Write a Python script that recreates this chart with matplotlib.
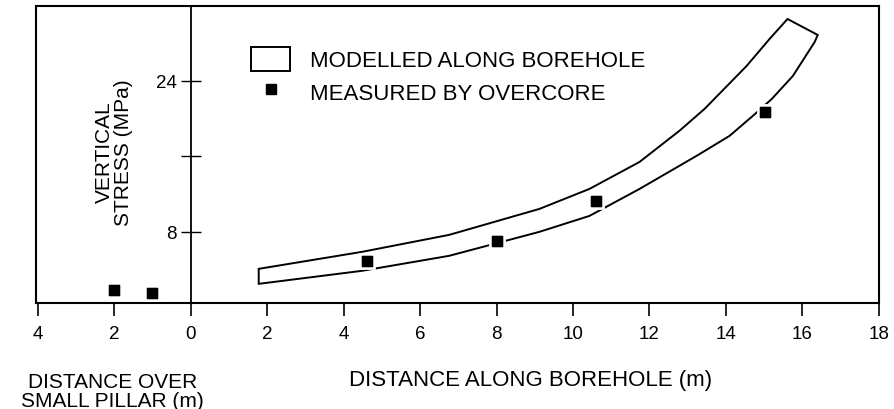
import matplotlib.pyplot as plt
from matplotlib.patches import Patch
from matplotlib.lines import Line2D

plt.rcParams['font.family'] = ['Liberation Sans', 'DejaVu Sans']

# modelled band along the borehole (upper edge left->right, lower edge right->left)
upper_x = [1.78, 4.48, 6.76, 9.12, 10.43, 11.74, 12.78, 13.44, 14.54, 15.14, 15.61]
upper_y = [4.08, 5.88, 7.68, 10.43, 12.55, 15.41, 18.70, 21.03, 25.58, 28.44, 30.56]
lower_x = [16.40, 16.32, 15.75, 15.20, 14.70, 14.09, 13.23, 11.74, 10.43, 9.12, 6.76, 4.48, 1.78]
lower_y = [28.87, 28.12, 24.52, 22.09, 20.28, 18.16, 16.05, 12.55, 9.69, 8.00, 5.46, 3.87, 2.49]

# overcore measurements (negative x = distance over small pillar)
meas_x = [-2.0, -1.0, 4.6, 8.0, 10.61, 15.03]
meas_y = [1.85, 1.54, 4.93, 7.08, 11.28, 20.7]

xticks = [-4, -2, 0, 2, 4, 6, 8, 10, 12, 14, 16, 18]
xtick_labels = [str(abs(t)) for t in xticks]
yticks = [8, 16, 24]
ytick_labels = ['8', '', '24']

fig = plt.figure(figsize=(8.95, 4.10), dpi=100)
ax = fig.add_axes([0.040, 0.259, 0.942, 0.724])

band_x = upper_x + lower_x + [upper_x[0]]
band_y = upper_y + lower_y + [upper_y[0]]
ax.fill(band_x, band_y, facecolor='white', edgecolor='black', lw=1.4, zorder=2)

ax.plot(meas_x, meas_y, 's', color='black', markersize=9.5,
        markeredgecolor='white', markeredgewidth=2.0, zorder=3)
ax.plot(meas_x, meas_y, 's', color='black', markersize=7.5, zorder=4)

ax.set_xlim(-4.05, 18)
ax.set_ylim(0.48, 31.94)

for s in ['top', 'right', 'bottom']:
    ax.spines[s].set_linewidth(1.5)
ax.spines['left'].set_position(('data', 0))
ax.spines['left'].set_linewidth(1.3)
ax.plot([0, 0], [0, 1], transform=ax.transAxes, color='black', lw=1.5,
        clip_on=False)

ax.set_xticks(xticks)
ax.set_xticklabels(xtick_labels, fontsize=13.5)
ax.set_yticks(yticks)
ax.set_yticklabels(ytick_labels, fontsize=13.5)
ax.tick_params(axis='x', direction='out', length=9, width=1.2, pad=7)
ax.tick_params(axis='y', direction='inout', length=14, width=1.0, pad=3)

ax.text(-2.0, 16.5, 'VERTICAL\nSTRESS (MPa)', rotation=90, fontsize=15,
        ha='center', va='center', linespacing=1.0)

handles = [Patch(facecolor='white', edgecolor='black', lw=1.4),
           Line2D([], [], marker='s', color='black', ls='none', markersize=7.5)]
ax.legend(handles, ['MODELLED ALONG BOREHOLE', 'MEASURED BY OVERCORE'],
          loc='upper left', bbox_to_anchor=(0.232, 0.93), frameon=False,
          fontsize=16, handlelength=1.75, handleheight=1.3, handletextpad=0.9,
          labelspacing=0.35)

fig.text(0.593, 0.073, 'DISTANCE ALONG BOREHOLE (m)', fontsize=16,
         ha='center', va='center')
fig.text(0.126, 0.045, 'DISTANCE OVER\nSMALL PILLAR (m)', fontsize=15,
         ha='center', va='center', linespacing=1.0)

fig.savefig('out.png', dpi=100)
